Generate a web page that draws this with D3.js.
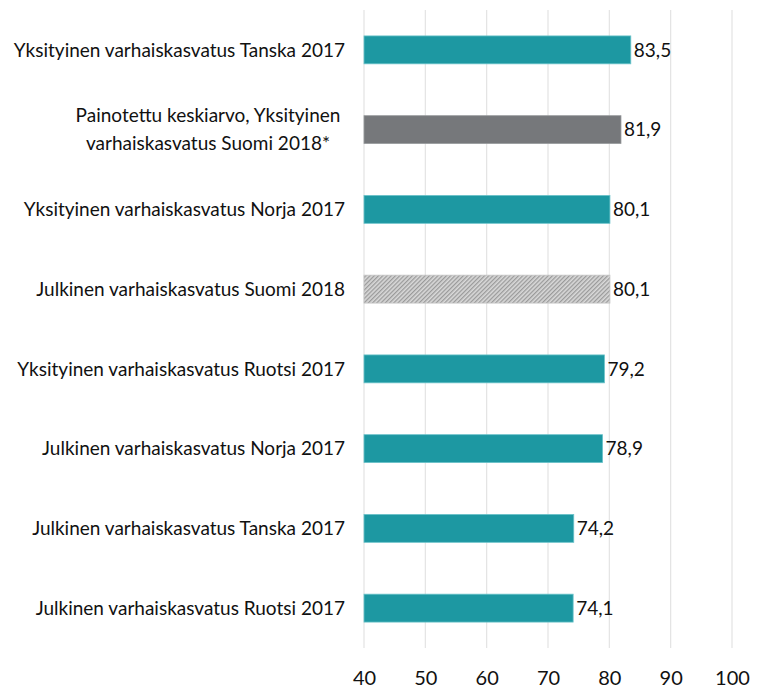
<!DOCTYPE html>
<html><head><meta charset="utf-8">
<script src="https://cdn.jsdelivr.net/npm/d3@7"></script>
<style>body{margin:0;background:#fff}svg{display:block}text{font-family:Lato,"Open Sans",sans-serif;fill:#111}</style>
</head><body>
<svg id="c" width="764" height="688"></svg>
<script>
const categories = [
  ["Yksityinen varhaiskasvatus Tanska 2017"],
  ["Painotettu keskiarvo, Yksityinen","varhaiskasvatus Suomi 2018*"],
  ["Yksityinen varhaiskasvatus Norja 2017"],
  ["Julkinen varhaiskasvatus Suomi 2018"],
  ["Yksityinen varhaiskasvatus Ruotsi 2017"],
  ["Julkinen varhaiskasvatus Norja 2017"],
  ["Julkinen varhaiskasvatus Tanska 2017"],
  ["Julkinen varhaiskasvatus Ruotsi 2017"]
];
const values = [83.5, 81.9, 80.1, 80.1, 79.2, 78.9, 74.2, 74.1];
const kinds = ["teal","gray","teal","hatch","teal","teal","teal","teal"];
const ticks = [40,50,60,70,80,90,100];

const svg = d3.select("#c");
const defs = svg.append("defs");
const pat = defs.append("pattern").attr("id","hatch").attr("patternUnits","userSpaceOnUse")
  .attr("width",3).attr("height",3).attr("patternTransform","rotate(45)");
pat.append("rect").attr("width",3).attr("height",3).attr("fill","#d9d9d9");
pat.append("rect").attr("width",1.3).attr("height",3).attr("fill","#9a9a9a");

const x = d3.scaleLinear().domain([40,100]).range([364,732]);
const y = d3.scaleBand().domain(d3.range(categories.length)).range([10,648]).paddingInner(0.65).paddingOuter(0.325);

svg.append("g").selectAll("line").data(ticks).join("line")
  .attr("x1",d=>x(d)).attr("x2",d=>x(d)).attr("y1",10).attr("y2",648)
  .attr("stroke","#e3e3e3").attr("stroke-width",1.2);

const fills = {teal:"#1d98a2", gray:"#76787b", hatch:"url(#hatch)"};
const strokes = {teal:"#6cc3ca", gray:"#9a9c9e", hatch:"#c4c4c4"};
svg.append("g").selectAll("rect").data(values).join("rect")
  .attr("x",x(40)).attr("y",(d,i)=>y(i)).attr("width",d=>x(d)-x(40)).attr("height",y.bandwidth())
  .attr("fill",(d,i)=>fills[kinds[i]]).attr("stroke",(d,i)=>strokes[kinds[i]]).attr("stroke-width",0.8);

svg.append("g").selectAll("text").data(values).join("text")
  .attr("x",d=>x(d)+3).attr("y",(d,i)=>y(i)+y.bandwidth()/2).attr("dy","0.35em")
  .attr("font-size",19).text(d=>d.toFixed(1).replace(".",","));

const lab = svg.append("g").selectAll("text").data(categories).join("text")
  .attr("font-size",19)
  .attr("y",(d,i)=>y(i)+y.bandwidth()/2);
lab.each(function(d){
  const t = d3.select(this);
  const n = d.length;
  t.attr("text-anchor", n>1 ? "middle" : "end");
  d.forEach((s,j)=>{
    t.append("tspan").attr("x", n>1 ? 208 : 345)
      .attr("dy", j===0 ? ((-(n-1)*0.737)+0.35)+"em" : "1.474em").text(s);
  });
});

const xAxis = svg.append("g").attr("transform","translate(0,648)")
  .call(d3.axisBottom(x).tickValues(ticks).tickSize(0).tickPadding(23));
xAxis.select(".domain").remove();
xAxis.selectAll("text").attr("font-size",20).attr("font-family","Lato,sans-serif").attr("fill","#111");
</script>
</body></html>
